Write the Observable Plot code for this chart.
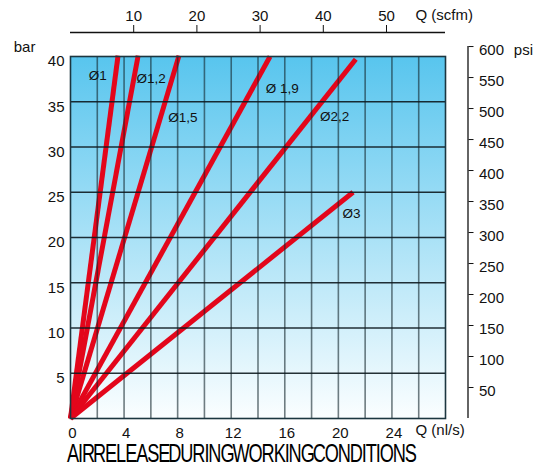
<!DOCTYPE html>
<html>
<head>
<meta charset="utf-8">
<script src="https://cdn.jsdelivr.net/npm/d3@7"></script>
<script src="https://cdn.jsdelivr.net/npm/@observablehq/plot@0.6"></script>
<style>
  html, body { margin: 0; padding: 0; background: #fff; }
  #chart svg { display: block; }
  #title { display: block; overflow: visible; }
</style>
</head>
<body>
<div id="chart"></div>
<script>
// ---- data ----
const diameters = ["Ø1", "Ø1,2", "Ø1,5", "Ø 1,9", "Ø2,2", "Ø3"];
const endFlow   = [3.55, 5.05, 8.1, 14.9, 21.3, 21.1];   // Q (nl/s) at line end
const endBar    = [40.1, 40.1, 40.1, 40.0, 39.7, 25.0];  // bar at line end
const labelFlow = [1.37, 4.93, 7.3, 14.57, 18.63, 20.3];
const labelBar  = [37.9, 37.6, 33.2, 36.5, 33.3, 22.6];

const flowTicks = [0, 4, 8, 12, 16, 20, 24];             // Q (nl/s)
const barTicks  = [5, 10, 15, 20, 25, 30, 35, 40];
const scfmTicks = [10, 20, 30, 40, 50];
const psiTicks  = [50, 100, 150, 200, 250, 300, 350, 400, 450, 500, 550, 600];
const vGrid = [2, 4, 6, 8, 10, 12, 14, 16, 18, 20, 22, 24, 26];
const hGrid = [5, 10, 15, 20, 25, 30, 35];

const SCFM = 0.4719;   // nl/s per scfm
const PSI  = 0.0685;   // bar per psi (as drawn)

const lines = diameters.map((d, i) => ({d, q: endFlow[i], b: endBar[i]}));
const labels = diameters.map((d, i) => ({d, q: labelFlow[i], b: labelBar[i]}));

const svg = Plot.plot({
  width: 548,
  height: 440,
  marginLeft: 70,
  marginRight: 103,
  marginTop: 56,
  marginBottom: 22,
  x: {domain: [0, 28], label: null},
  y: {domain: [0, 40], label: null},
  style: {fontFamily: "'Liberation Sans', Arial, sans-serif", fontSize: "15px", background: "white", color: "#111"},
  marks: [
    Plot.frame({fill: "url(#bgGrad)", stroke: "none"}),
    Plot.link(lines, {x1: 0, y1: 0, x2: "q", y2: "b", stroke: "#e3061b", strokeWidth: 5}),
    Plot.ruleX(vGrid, {stroke: "#14262d", strokeOpacity: 0.6, strokeWidth: 1.6}),
    Plot.ruleY(hGrid, {stroke: "#0d1a1f", strokeOpacity: 0.9, strokeWidth: 1.3}),
    Plot.frame({stroke: "#1c3640", strokeWidth: 1.6}),
    Plot.text(labels, {x: "q", y: "b", text: "d", textAnchor: "start", fontSize: 13.5, fill: "#111"}),
    // left axis (bar)
    Plot.axisY({anchor: "left", ticks: barTicks, tickSize: 0, tickPadding: 6, dy: 5, label: null}),
    // bottom axis (nl/s)
    Plot.axisX({anchor: "bottom", ticks: flowTicks, tickSize: 0, tickPadding: 9, dx: 2, label: null}),
    // top axis (scfm)
    Plot.ruleY([40], {x1: 0, x2: 28, dy: -24, stroke: "#111", strokeWidth: 1.3}),
    Plot.axisX({anchor: "top", ticks: scfmTicks.map(s => s * SCFM), tickFormat: d => Math.round(d / SCFM), tickSize: 8, tickPadding: 4, dy: -24, label: null}),
    // right axis (psi)
    Plot.ruleX([28], {y1: 0, y2: 600 * PSI, dx: 22.5, stroke: "#111", strokeWidth: 1.3}),
    Plot.axisY({anchor: "right", ticks: psiTicks.map(p => p * PSI), tickFormat: () => "", tickSize: 5, dx: 22.5, label: null}),
    Plot.axisY({anchor: "right", ticks: psiTicks.map(p => p * PSI), tickFormat: d => Math.round(d / PSI), tickSize: 0, tickPadding: 11, dx: 22.5, dy: 4, label: null}),
    // axis titles
    Plot.text(["Q (scfm)"], {x: 25.76, y: 40, dy: -41, textAnchor: "start", fontSize: 15}),
    Plot.text(["Q (nl/s)"], {x: 25.76, y: 0, dy: 12, textAnchor: "start", fontSize: 15}),
    Plot.text(["psi"], {x: 33.1, y: 40, dy: -6, textAnchor: "start", fontSize: 15}),
    Plot.text(["bar"], {x: -4.24, y: 40, dy: -9.5, textAnchor: "start", fontSize: 15})
  ]
});

d3.select(svg).insert("defs", ":first-child").html(
  `<linearGradient id="bgGrad" x1="0" y1="0" x2="0" y2="1">
     <stop offset="0" stop-color="#58c5ee"/>
     <stop offset="1" stop-color="#fbfeff"/>
   </linearGradient>`);
d3.select(svg).style("overflow", "visible");

document.getElementById("chart").appendChild(svg);

// title below the chart
const SX = 0.7;
const t = d3.select("body").append("svg").attr("id", "title").attr("width", 548).attr("height", 27);
t.append("g").attr("transform", `translate(67,22) scale(${SX},1)`)
  .append("text")
  .attr("font-family", "'Liberation Sans', Arial, sans-serif")
  .attr("font-size", 26)
  .attr("fill", "#000")
  .attr("word-spacing", -7)
  .attr("textLength", 350 / SX)
  .attr("lengthAdjust", "spacing")
  .text("AIR RELEASE DURING WORKING CONDITIONS");
</script>
</body>
</html>
